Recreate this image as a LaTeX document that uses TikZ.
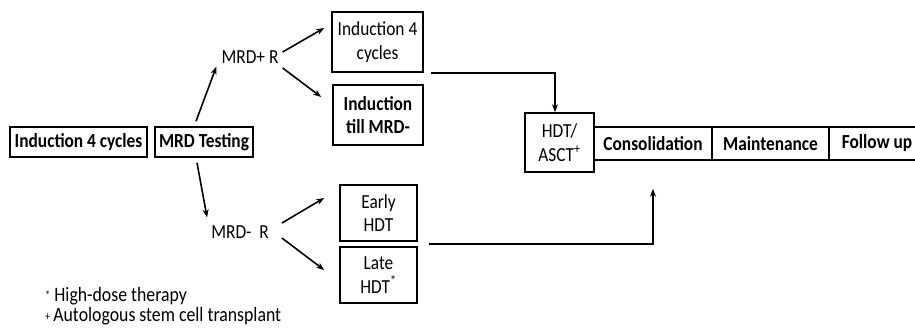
\documentclass[tikz,border=0pt]{standalone}
\usepackage{fontspec}
\setmainfont{Carlito}[FakeStretch=0.87]
\usetikzlibrary{arrows.meta}
\newcommand{\mainsz}{\fontsize{20}{23.5}\selectfont}
\tikzset{
  box/.style={draw, line width=1.6bp, inner sep=0pt, align=center, font=\mainsz},
  boldbox/.style={box, font=\mainsz\bfseries},
  lbl/.style={inner sep=0pt, font=\mainsz},
  note/.style={inner sep=0pt, anchor=west, font=\fontsize{20.5}{23}\selectfont},
  arr/.style={line width=1.6bp, -{Stealth[length=8bp,width=6bp]}},
}
\begin{document}
\begin{tikzpicture}[x=1bp,y=-1bp]
\useasboundingbox (0,0) rectangle (915,331);
\clip (0,0) rectangle (915,331);
% boxes
\node[boldbox, minimum width=137bp, minimum height=30bp] (ind1) at (78.5,142) {Induction 4 cycles};
\node[boldbox, minimum width=98bp, minimum height=30bp] (mrdt) at (204,142) {MRD Testing};
\node[box, minimum width=91bp, minimum height=60bp] (ind4) at (377.5,42) {Induction 4\\cycles};
\node[boldbox, minimum width=90bp, minimum height=60bp] (indtill) at (378,115) {Induction\\till MRD-};
\node[box, minimum width=77bp, minimum height=56bp] (early) at (378.5,213) {Early\\HDT};
\node[box, minimum width=77bp, minimum height=56bp] (late) at (378.5,275) {Late\\HDT\textsuperscript{*}};
\node[box, minimum width=69bp, minimum height=59bp] (hdt) at (559.5,142.5) {HDT/\\ASCT\textsuperscript{+}};
\node[boldbox, minimum width=118bp, minimum height=33bp] (cons) at (653,143.5) {Consolidation};
\node[boldbox, minimum width=117bp, minimum height=33bp] (maint) at (770.5,143.5) {Maintenance};
\node[boldbox, minimum width=96bp, minimum height=33bp] (follow) at (877,143.5) {Follow up};
% labels
\node[lbl] (mrdp) at (250,57) {MRD+ R};
\node[lbl] (mrdm) at (240,232) {MRD-\ \ R};
% arrows
\draw[arr] ([shift={(-8,-5)}]mrdt.north) -- ([shift={(-5,3)}]mrdp.south west);
\draw[arr] ([shift={(4,-5)}]mrdp.east) -- ([shift={(-7,-14)}]ind4.west);
\draw[arr] ([shift={(4,11)}]mrdp.east) -- ([shift={(-11,-18)}]indtill.west);
\draw[arr] ([shift={(-7,5)}]mrdt.south) -- ([shift={(-4,-8)}]mrdm.north west);
\draw[arr] ([shift={(13,-9)}]mrdm.east) -- ([shift={(-15,-15)}]early.west);
\draw[arr] ([shift={(13,6)}]mrdm.east) -- ([shift={(-15,-5)}]late.west);
\draw[arr] ([shift={(7,0)}]ind4.south east) -| ([xshift=-4.5bp]hdt.north);
\draw[arr] ([shift={(11,-2)}]late.north east) -| ([shift={(0,28)}]cons.south);
% footnotes
\node[note] (n1) at (45,296) {\raisebox{2bp}{\fontsize{12}{12}\selectfont *}\hspace{4bp}High-dose therapy};
\node[note] (n2) at (45,316) {\raisebox{1bp}{\fontsize{12}{12}\selectfont +}\hspace{3bp}Autologous stem cell transplant};
\end{tikzpicture}
\end{document}
